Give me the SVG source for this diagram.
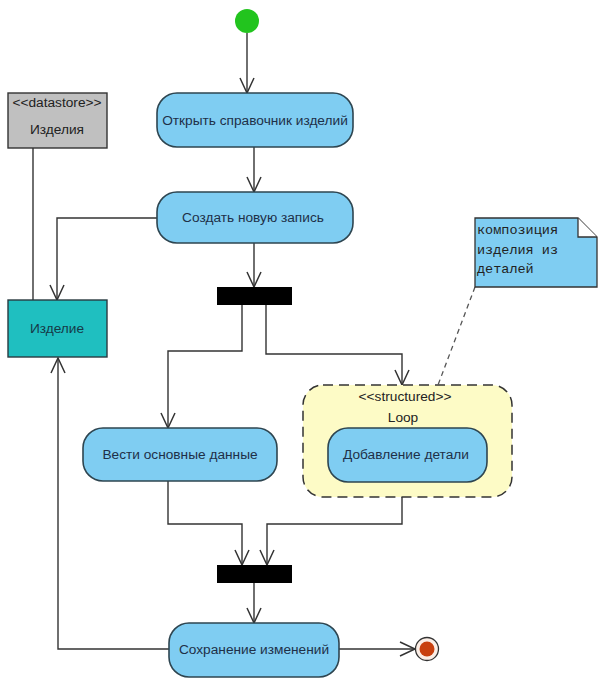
<svg xmlns="http://www.w3.org/2000/svg" width="604" height="695" viewBox="0 0 604 695">
<defs>
<marker id="arr" markerUnits="userSpaceOnUse" markerWidth="20" markerHeight="20" refX="0" refY="0" viewBox="-17 -10 20 20" orient="auto" overflow="visible">
<path d="M -15 -7 L 0 0 L -15 7" fill="none" stroke="#333" stroke-width="1.5"/>
</marker>
<style>
.act{fill:#7fcdf2;stroke:#2e4550;stroke-width:1.6}
.t{font-family:"Liberation Sans",Arial,sans-serif;font-size:13.7px;fill:#1e3048;text-anchor:middle}
.c{fill:none;stroke:#333;stroke-width:1.4}
.bar{fill:#000}
.mono{font-family:"Liberation Mono","Courier New",monospace;font-size:13.5px;fill:#222}
</style>
</defs>
<rect width="604" height="695" fill="#fff"/>

<g id="connectors">
<path class="c" d="M 247 33 L 247 93" marker-end="url(#arr)"/>
<path class="c" d="M 254 147 L 254 192" marker-end="url(#arr)"/>
<path class="c" d="M 254 243 L 254 287" marker-end="url(#arr)"/>
<path class="c" d="M 157 218 L 57 218 L 57 300" marker-end="url(#arr)"/>
<path class="c" d="M 33 148 L 33 300"/>
<path class="c" d="M 242 305 L 242 351 L 168 351 L 168 428" marker-end="url(#arr)"/>
<path class="c" d="M 266 305 L 266 354 L 402 354 L 402 385" marker-end="url(#arr)"/>
<path class="c" d="M 168 481 L 168 524 L 242 524 L 242 565" marker-end="url(#arr)"/>
<path class="c" d="M 402 497 L 402 524 L 267 524 L 267 565" marker-end="url(#arr)"/>
<path class="c" d="M 254 583 L 254 623" marker-end="url(#arr)"/>
<path class="c" d="M 339 649 L 415 649" marker-end="url(#arr)"/>
<path class="c" d="M 169 649 L 58 649 L 58 358" marker-end="url(#arr)"/>
<path d="M 475 287 L 438 385" fill="none" stroke="#555" stroke-width="1.3" stroke-dasharray="5 4"/>
</g>

<g id="start"><circle cx="247" cy="21" r="12" fill="#22c41e"/></g>

<g id="open">
<rect class="act" x="157" y="93" width="196" height="54" rx="20"/>
<text class="t" x="255" y="125">Открыть справочник изделий</text>
</g>

<g id="create">
<rect class="act" x="157" y="192" width="196" height="51" rx="20"/>
<text class="t" x="253" y="222">Создать новую запись</text>
</g>

<g id="datastore">
<rect x="8" y="93" width="99" height="55" fill="#c0c0c0" stroke="#333" stroke-width="1.4"/>
<text class="t" x="57" y="107" style="fill:#222">&lt;&lt;datastore&gt;&gt;</text>
<text class="t" x="57" y="134" style="fill:#222">Изделия</text>
</g>

<g id="izdelie">
<rect x="8" y="300" width="99" height="57" fill="#1fbfc0" stroke="#2a3a40" stroke-width="1.4"/>
<text class="t" x="57" y="333" style="fill:#163a48">Изделие</text>
</g>

<g id="fork"><rect class="bar" x="217" y="287" width="75" height="18"/></g>

<g id="vesti">
<rect class="act" x="83" y="428" width="194" height="53" rx="20"/>
<text class="t" x="180" y="459">Вести основные данные</text>
</g>

<g id="loop">
<rect x="303" y="385" width="209" height="112" rx="20" fill="#fdfbc6" stroke="#333" stroke-width="1.5" stroke-dasharray="10 6"/>
<text class="t" x="405" y="401" style="fill:#222">&lt;&lt;structured&gt;&gt;</text>
<text class="t" x="403" y="422" style="fill:#222">Loop</text>
</g>

<g id="dobavlenie">
<rect class="act" x="328" y="428" width="159" height="54" rx="20"/>
<text class="t" x="406" y="459">Добавление детали</text>
</g>

<g id="note">
<path d="M 475 218 L 578 218 L 597 237 L 597 287 L 475 287 Z" fill="#7fcdf2" stroke="#333" stroke-width="1.3"/>
<path d="M 578 218 L 578 237 L 597 237" fill="#fff" stroke="#333" stroke-width="1.3"/>
<text class="mono" x="477" y="234">композиция</text>
<text class="mono" x="477" y="254">изделия из</text>
<text class="mono" x="477" y="273">деталей</text>
</g>

<g id="join"><rect class="bar" x="217" y="565" width="75" height="18"/></g>

<g id="save">
<rect class="act" x="169" y="623" width="170" height="54" rx="20"/>
<text class="t" x="254" y="654">Сохранение изменений</text>
</g>

<g id="end">
<circle cx="427" cy="649" r="11.5" fill="#fbeee6" stroke="#333" stroke-width="1.3"/>
<circle cx="427" cy="649" r="7.5" fill="#c8400e"/>
</g>
</svg>
